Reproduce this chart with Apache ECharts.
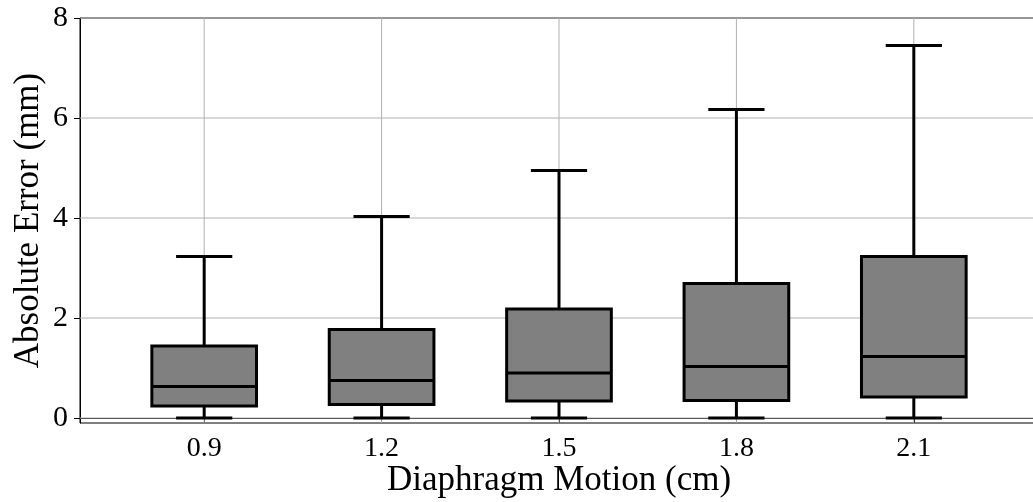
<!DOCTYPE html>
<html>
<head>
<meta charset="utf-8">
<script src="https://cdn.jsdelivr.net/npm/echarts@6/dist/echarts.min.js"></script>
<style>
  html, body { margin: 0; padding: 0; background: #fff; }
  #chart { width: 1033px; height: 502px; }
</style>
</head>
<body>
<div id="chart"></div>
<script>
// Absolute error distribution per diaphragm motion amplitude
const categories = ['0.9', '1.2', '1.5', '1.8', '2.1'];
const whiskerLow = [0.0, 0.0, 0.0, 0.0, 0.0];
const q1 = [0.24, 0.27, 0.34, 0.35, 0.42];
const median = [0.63, 0.75, 0.90, 1.03, 1.23];
const q3 = [1.44, 1.77, 2.18, 2.69, 3.23];
const whiskerHigh = [3.23, 4.03, 4.95, 6.17, 7.45];
const yTicks = [0, 2, 4, 6, 8];

const BOX_WIDTH = 0.59;   // in position units
const CAP_WIDTH = 0.3;
const FONT = 'Liberation Serif, Times New Roman, serif';

const positions = categories.map((c, i) => i + 1);
const boxData = positions.map((p, i) => [p, whiskerLow[i], q1[i], median[i], q3[i], whiskerHigh[i]]);

const chart = echarts.init(document.getElementById('chart'), null, { renderer: 'canvas' });

function strokeStyle(w) {
  return { stroke: '#000', lineWidth: w, fill: null, lineCap: 'butt' };
}

function renderBox(params, api) {
  const x = api.value(0);
  const lo = api.coord([x, api.value(1)]);
  const b = api.coord([x, api.value(2)]);
  const m = api.coord([x, api.value(3)]);
  const t = api.coord([x, api.value(4)]);
  const hi = api.coord([x, api.value(5)]);
  const bw = api.size([BOX_WIDTH, 0])[0];
  const cw = api.size([CAP_WIDTH, 0])[0];
  const cx = lo[0];
  const capStyle = Object.assign(strokeStyle(3), { lineCap: 'square' });
  return {
    type: 'group',
    children: [
      { type: 'line', shape: { x1: cx, y1: lo[1], x2: cx, y2: b[1] }, style: strokeStyle(3) },
      { type: 'line', shape: { x1: cx, y1: t[1], x2: cx, y2: hi[1] }, style: strokeStyle(3) },
      { type: 'line', shape: { x1: cx - cw / 2, y1: lo[1], x2: cx + cw / 2, y2: lo[1] }, style: capStyle },
      { type: 'line', shape: { x1: cx - cw / 2, y1: hi[1], x2: cx + cw / 2, y2: hi[1] }, style: capStyle },
      { type: 'rect', shape: { x: cx - bw / 2, y: t[1], width: bw, height: b[1] - t[1] },
        style: { fill: '#808080', stroke: '#000', lineWidth: 3 } },
      { type: 'line', shape: { x1: cx - bw / 2, y1: m[1], x2: cx + bw / 2, y2: m[1] }, style: strokeStyle(3) }
    ]
  };
}

function renderHGrid(params, api) {
  const cs = params.coordSys;
  const y = api.coord([positions[0], api.value(1)])[1];
  return { type: 'line', silent: true,
    shape: { x1: cs.x, y1: y, x2: cs.x + cs.width, y2: y },
    style: { stroke: '#b0b0b0', lineWidth: 1 } };
}

function renderVGrid(params, api) {
  const cs = params.coordSys;
  const x = api.coord([api.value(0), yTicks[0]])[0];
  return { type: 'line', silent: true,
    shape: { x1: x, y1: cs.y, x2: x, y2: cs.y + cs.height },
    style: { stroke: '#b0b0b0', lineWidth: 1 } };
}

chart.setOption({
  animation: false,
  backgroundColor: '#fff',
  grid: {
    left: 80, top: 18, width: 958, height: 405,
    outerBoundsMode: 'none', containLabel: false,
    show: true, borderColor: '#000', borderWidth: 1, backgroundColor: 'transparent'
  },
  xAxis: {
    type: 'value', min: 0.3, max: 5.7,
    name: 'Diaphragm Motion (cm)', nameLocation: 'middle', nameGap: 40, nameMoveOverlap: false,
    nameTextStyle: { fontFamily: FONT, fontSize: 35, color: '#000' },
    axisLine: { show: true, lineStyle: { color: '#000', width: 1 } },
    axisTick: { show: true, customValues: positions, length: 5, lineStyle: { color: '#000', width: 1 } },
    axisLabel: {
      customValues: positions, margin: 12,
      fontFamily: FONT, fontSize: 28, color: '#000',
      formatter: v => categories[Math.round(v) - 1]
    },
    splitLine: { show: false }
  },
  yAxis: {
    type: 'value', min: -0.1, max: 8,
    name: 'Absolute Error (mm)', nameLocation: 'middle', nameGap: 34, nameMoveOverlap: false,
    nameTextStyle: { fontFamily: FONT, fontSize: 35, color: '#000' },
    axisLine: { show: true, lineStyle: { color: '#000', width: 1 } },
    axisTick: { show: true, customValues: yTicks, length: 6, lineStyle: { color: '#000', width: 1 } },
    axisLabel: {
      customValues: yTicks, margin: 12,
      fontFamily: FONT, fontSize: 30, color: '#000'
    },
    splitLine: { show: false }
  },
  series: [
    {
      type: 'custom', name: 'hgrid', z: 1, silent: true,
      data: yTicks.map(v => [positions[0], v]),
      encode: { x: 0, y: 1 },
      renderItem: renderHGrid
    },
    {
      type: 'custom', name: 'vgrid', z: 1, silent: true,
      data: positions.map(p => [p, yTicks[0]]),
      encode: { x: 0, y: 1 },
      renderItem: renderVGrid
    },
    {
      type: 'custom', name: 'Absolute Error', z: 3,
      data: boxData,
      encode: { x: 0, y: [1, 2, 3, 4, 5] },
      renderItem: renderBox
    }
  ]
});
</script>
</body>
</html>
